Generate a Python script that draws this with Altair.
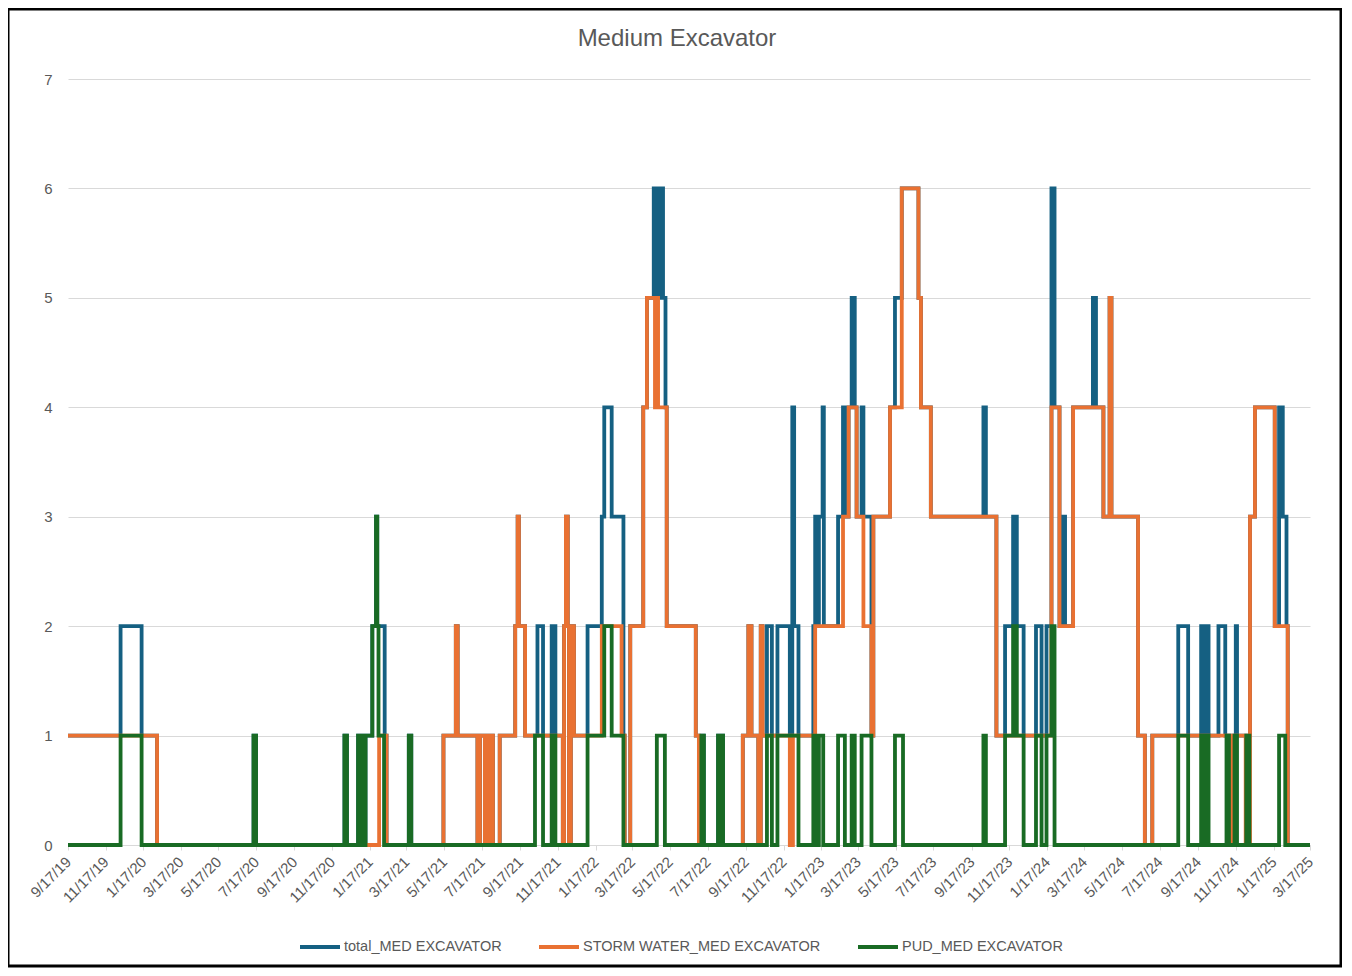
import altair as alt
import pandas as pd

series_names = ["total_MED EXCAVATOR", "STORM WATER_MED EXCAVATOR", "PUD_MED EXCAVATOR"]
series_colors = ["#156082", "#E97132", "#196B24"]

total_dates = ["2019-09-17","2019-12-11","2020-01-14","2020-02-08","2020-07-13","2020-07-17","2020-12-07","2020-12-11","2020-12-29","2021-01-03","2021-01-05","2021-01-08","2021-01-10","2021-01-21","2021-01-27","2021-01-29","2021-02-10","2021-02-13","2021-03-21","2021-03-25","2021-05-16","2021-06-05","2021-06-08","2021-07-10","2021-07-14","2021-07-22","2021-07-24","2021-07-27","2021-07-29","2021-08-04","2021-08-15","2021-09-09","2021-09-13","2021-09-15","2021-09-25","2021-10-15","2021-10-24","2021-11-07","2021-11-13","2021-11-25","2021-11-27","2021-11-30","2021-12-03","2021-12-05","2021-12-08","2021-12-13","2022-01-04","2022-01-27","2022-01-31","2022-02-12","2022-03-03","2022-03-05","2022-03-14","2022-04-04","2022-04-10","2022-04-21","2022-04-23","2022-04-25","2022-04-27","2022-04-29","2022-05-03","2022-05-04","2022-05-06","2022-05-10","2022-05-12","2022-06-28","2022-07-03","2022-07-07","2022-07-11","2022-08-03","2022-08-06","2022-08-08","2022-08-11","2022-09-12","2022-09-21","2022-09-26","2022-10-07","2022-10-11","2022-10-14","2022-10-21","2022-10-29","2022-11-07","2022-11-27","2022-12-01","2022-12-04","2022-12-11","2023-01-04","2023-01-07","2023-01-10","2023-01-13","2023-01-19","2023-01-21","2023-02-13","2023-02-21","2023-02-24","2023-03-02","2023-03-07","2023-03-12","2023-03-15","2023-03-23","2023-03-26","2023-04-08","2023-04-11","2023-05-08","2023-05-16","2023-05-27","2023-06-23","2023-06-27","2023-07-13","2023-10-06","2023-10-10","2023-10-27","2023-11-10","2023-11-23","2023-11-29","2023-12-10","2023-12-30","2024-01-08","2024-01-16","2024-01-24","2024-01-29","2024-02-06","2024-02-09","2024-02-15","2024-02-28","2024-03-31","2024-04-05","2024-04-17","2024-04-27","2024-04-30","2024-06-12","2024-06-23","2024-07-05","2024-08-16","2024-09-01","2024-09-22","2024-09-27","2024-09-30","2024-10-04","2024-10-20","2024-10-31","2024-11-07","2024-11-10","2024-11-17","2024-11-19","2024-12-10","2024-12-18","2025-01-19","2025-01-26","2025-02-01","2025-02-07","2025-02-09","2025-03-17"]
total_values = [1,2,1,0,1,0,1,0,1,0,1,0,1,2,3,2,1,0,1,0,1,2,1,0,1,0,1,0,1,0,1,2,3,2,1,2,1,2,1,0,2,3,2,0,2,1,2,3,4,3,1,0,2,4,5,6,5,6,5,6,5,6,5,4,2,1,0,1,0,1,0,1,0,1,2,1,0,2,1,2,1,2,1,4,2,1,2,3,2,3,4,2,3,4,3,4,5,4,3,4,3,1,3,4,5,6,5,4,3,4,3,1,2,3,2,1,2,1,2,6,4,2,3,2,4,5,4,3,5,3,1,0,1,2,1,2,1,2,1,2,1,0,1,2,1,3,4,2,4,3,2,0,0]

storm_dates = ["2019-09-17","2020-02-08","2021-02-01","2021-02-13","2021-05-16","2021-06-05","2021-06-08","2021-07-10","2021-07-14","2021-07-22","2021-07-24","2021-07-27","2021-07-29","2021-08-04","2021-08-15","2021-09-09","2021-09-13","2021-09-15","2021-09-25","2021-11-25","2021-11-27","2021-11-30","2021-12-03","2021-12-05","2021-12-08","2021-12-13","2022-01-27","2022-02-28","2022-03-05","2022-03-14","2022-04-04","2022-04-10","2022-04-23","2022-04-26","2022-04-28","2022-05-12","2022-06-28","2022-07-03","2022-09-12","2022-09-21","2022-09-26","2022-10-07","2022-10-11","2022-10-14","2022-11-27","2022-12-02","2023-01-07","2023-02-21","2023-03-02","2023-03-15","2023-03-26","2023-04-08","2023-04-11","2023-05-08","2023-05-27","2023-06-23","2023-06-27","2023-07-13","2023-10-27","2024-01-24","2024-02-06","2024-02-28","2024-04-17","2024-04-27","2024-04-30","2024-06-12","2024-06-23","2024-07-05","2024-11-07","2024-11-10","2024-12-03","2024-12-10","2024-12-18","2025-01-19","2025-02-09","2025-03-17"]
storm_values = [1,0,1,0,1,2,1,0,1,0,1,0,1,0,1,2,3,2,1,0,2,3,2,0,2,1,2,1,0,2,4,5,4,5,4,2,1,0,1,2,1,0,2,1,0,1,2,3,4,3,2,1,3,4,6,5,4,3,1,4,2,4,3,5,3,1,0,1,0,1,0,3,4,2,0,0]

pud_dates = ["2019-09-17","2019-12-11","2020-01-14","2020-07-13","2020-07-17","2020-12-07","2020-12-11","2020-12-29","2021-01-03","2021-01-05","2021-01-08","2021-01-10","2021-01-21","2021-01-27","2021-01-29","2021-01-31","2021-02-09","2021-03-21","2021-03-25","2021-10-11","2021-10-24","2021-11-07","2021-11-13","2022-01-04","2022-01-31","2022-02-12","2022-03-03","2022-04-26","2022-05-09","2022-07-07","2022-07-11","2022-08-03","2022-08-06","2022-08-08","2022-08-11","2022-10-21","2022-10-29","2022-11-07","2022-12-11","2023-01-04","2023-01-10","2023-01-13","2023-01-20","2023-02-13","2023-02-24","2023-03-07","2023-03-12","2023-03-23","2023-04-08","2023-05-16","2023-05-29","2023-10-06","2023-10-10","2023-11-10","2023-11-23","2023-11-29","2023-12-10","2023-12-30","2024-01-08","2024-01-16","2024-01-24","2024-01-29","2024-08-16","2024-09-01","2024-09-22","2024-09-27","2024-09-30","2024-10-04","2024-11-02","2024-11-06","2024-11-15","2024-11-19","2024-12-04","2024-12-09","2025-01-26","2025-02-05","2025-03-17"]
pud_values = [0,1,0,1,0,1,0,1,0,1,0,1,2,3,2,1,0,1,0,1,0,1,0,1,2,1,0,1,0,1,0,1,0,1,0,1,0,1,0,1,0,1,0,1,0,1,0,1,0,1,0,1,0,1,2,1,0,1,0,1,2,0,1,0,1,0,1,0,1,0,1,0,1,0,1,0,0]

tick_dates = ["2019-09-17","2019-11-17","2020-01-17","2020-03-17","2020-05-17","2020-07-17","2020-09-17","2020-11-17","2021-01-17","2021-03-17","2021-05-17","2021-07-17","2021-09-17","2021-11-17","2022-01-17","2022-03-17","2022-05-17","2022-07-17","2022-09-17","2022-11-17","2023-01-17","2023-03-17","2023-05-17","2023-07-17","2023-09-17","2023-11-17","2024-01-17","2024-03-17","2024-05-17","2024-07-17","2024-09-17","2024-11-17","2025-01-17","2025-03-17"]
y_ticks = [0, 1, 2, 3, 4, 5, 6, 7]

chart_title = "Medium Excavator"
FONT = "Liberation Sans"
GREY = "#595959"

rows = []
for name, ds, vs in zip(series_names,
                        [total_dates, storm_dates, pud_dates],
                        [total_values, storm_values, pud_values]):
    for d, v in zip(ds, vs):
        rows.append({"date": d + "T00:00:00", "value": v, "series": name})
df = pd.DataFrame(rows)


def to_dt(s):
    y, m, d = (int(p) for p in s.split("-"))
    return alt.DateTime(year=y, month=m, date=d)


x_enc = alt.X(
    "date:T",
    scale=alt.Scale(domain=[to_dt(tick_dates[0]), to_dt(tick_dates[-1])], nice=False),
    axis=alt.Axis(
        values=[to_dt(t) for t in tick_dates],
        format="%-m/%-d/%y",
        labelAngle=-45,
        labelAlign="right",
        labelBaseline="middle",
        labelPadding=9,
        labelFontSize=15,
        labelFont=FONT,
        labelColor=GREY,
        labelOverlap=False,
        labelFlush=False,
        domainColor="#d9d9d9",
        domainWidth=1,
        tickColor="#d9d9d9",
        tickSize=5,
        grid=False,
        title=None,
    ),
)
y_enc = alt.Y(
    "value:Q",
    scale=alt.Scale(domain=[0, 7], nice=False),
    axis=alt.Axis(
        values=y_ticks,
        format="d",
        domain=False,
        ticks=False,
        labelPadding=16,
        labelFontSize=15,
        labelFont=FONT,
        labelColor=GREY,
        gridColor="#d9d9d9",
        gridWidth=1,
        title=None,
    ),
)
color_enc = alt.Color(
    "series:N",
    scale=alt.Scale(domain=series_names, range=series_colors),
    legend=alt.Legend(
        orient="none",
        legendX=230,
        legendY=846,
        direction="horizontal",
        columns=3,
        symbolType="stroke",
        symbolSize=1600,
        symbolStrokeWidth=4,
        labelFontSize=14.5,
        labelFont=FONT,
        labelColor=GREY,
        labelOffset=2,
        labelLimit=500,
        columnPadding=29,
        padding=0,
        title=None,
    ),
)

base = alt.Chart(df).mark_line(interpolate="step-after", strokeWidth=3.8).encode(
    x=x_enc, y=y_enc, color=color_enc
)
lines = [base.transform_filter(alt.datum.series == n) for n in series_names]

frame = alt.Chart(alt.Data(values=[{}])).mark_rect(
    fill="transparent", stroke="black", strokeWidth=3
).encode(x=alt.value(-60), x2=alt.value(1273), y=alt.value(-70), y2=alt.value(887))

title_text = alt.Chart(alt.Data(values=[{}])).mark_text(
    fontSize=24, font=FONT, color=GREY, align="center", baseline="middle"
).encode(x=alt.value(609), y=alt.value(-40), text=alt.value(chart_title))

chart = alt.layer(frame, *lines, title_text).properties(
    width=1242,
    height=766,
    autosize=alt.AutoSizeParams(type="none"),
    padding={"left": 60, "top": 71, "right": 32, "bottom": 123},
).configure_view(strokeWidth=0)

chart.save("out.html", embed_options={"renderer": "svg", "actions": False})
